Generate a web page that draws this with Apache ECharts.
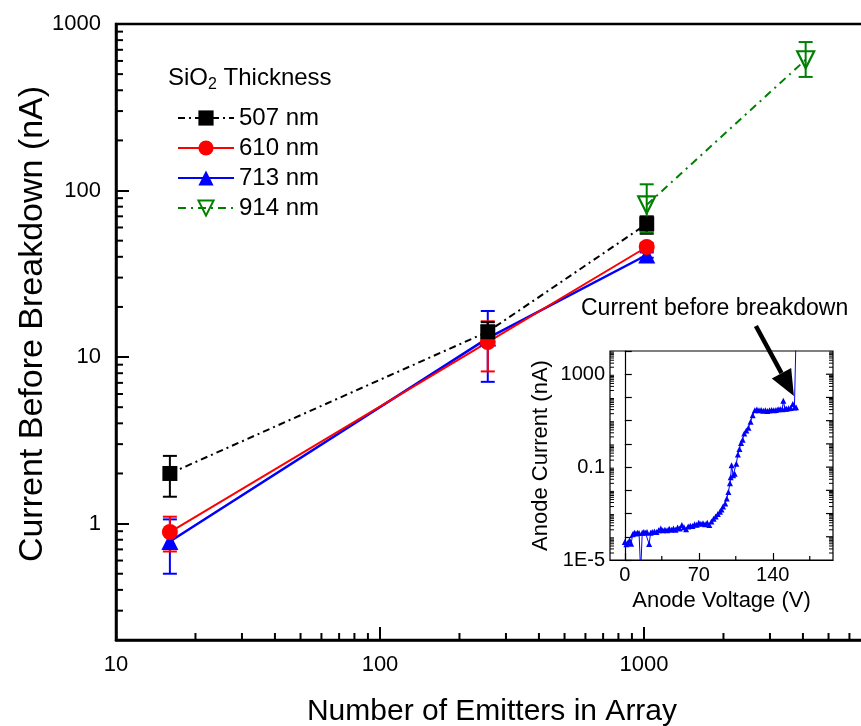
<!DOCTYPE html>
<html>
<head>
<meta charset="utf-8">
<script src="https://cdn.jsdelivr.net/npm/echarts@6/dist/echarts.min.js"></script>
<style>
  html, body { margin: 0; padding: 0; background: #fff; }
  #chart { width: 861px; height: 726px; }
</style>
</head>
<body>
<div id="chart"></div>
<script>
// ---- Main plot: current before breakdown vs. array size ----
const emitters = [16, 256, 1024];
const emitters914 = [1024, 4096];

const cur507 = [2.0, 14.2, 63];
const lo507 = [1.45, 12.2, 55];
const hi507 = [2.55, 16.2, 70];

const cur610 = [0.89, 12.3, 45.8];
const lo610 = [0.68, 8.2, 43.2];
const hi610 = [1.10, 16.4, 48.4];

const cur713 = [0.78, 13.0, 41];
const lo713 = [0.50, 7.1, 39.5];
const hi713 = [1.06, 18.9, 42.5];

const cur914 = [82, 610];
const lo914 = [56, 481];
const hi914 = [109, 779];

const seriesNames = ['507 nm', '610 nm', '713 nm', '914 nm'];
const xTickLabels = ['10', '100', '1000'];
const yTickLabels = ['1', '10', '100', '1000'];

// ---- Inset: I-V sweep of one array ----
const anodeVoltage = [
  0, 1.5, 3, 4.5, 6, 7.5, 9, 10.5, 12, 13.5, 15, 16.5, 18, 19.5, 21, 23, 24.5, 26, 28, 30,
  32, 34, 36, 38, 40, 42, 44, 46, 48, 50, 52, 54, 56, 58, 60, 62, 64, 66, 68, 70,
  72, 74, 76, 78, 80, 82, 84, 86, 88, 90, 91.5, 93, 95, 96.5, 98, 99.5, 100.2, 101, 102.5, 104,
  105.5, 107, 108.5, 110, 111.5, 113, 115, 117, 119, 121, 123, 125, 127, 129, 131, 133, 135, 137, 139, 141,
  143, 145, 147, 149, 150, 151.5, 153, 155, 157, 159, 160.5, 162, 162.7
];
const anodeCurrent = [
  6.0e-5, 4.8e-5, 5.5e-5, 7.0e-5, 5.0e-5, 1.3e-4, 1.5e-4, 1.4e-4, 1.5e-4, 1.45e-4, 3e-6, 1.5e-4, 1.6e-4, 1.5e-4, 1.6e-4, 4.9e-5, 1.5e-4, 1.6e-4, 1.7e-4, 1.6e-4,
  1.9e-4, 2.3e-4, 1.9e-4, 2.0e-4, 1.9e-4, 2.2e-4, 2.0e-4, 2.3e-4, 2.0e-4, 2.5e-4, 2.3e-4, 3.2e-4, 2.6e-4, 2.1e-4, 2.8e-4, 3.0e-4, 2.9e-4, 3.5e-4, 3.3e-4, 4.0e-4,
  3.6e-4, 3.8e-4, 3.5e-4, 4.0e-4, 3.2e-4, 4.6e-4, 6.0e-4, 7.5e-4, 9.5e-4, 1.2e-3, 1.5e-3, 2.0e-3, 2.7e-3, 4.5e-3, 8.5e-3, 0.02, 0.037, 0.12, 0.045, 0.052,
  0.14, 0.35, 0.6, 1.1, 1.5, 2.8, 3.8, 5, 9, 17, 28, 30, 28, 29, 27, 28, 26, 28, 29, 28,
  29, 31, 32, 31, 72, 33, 33, 34, 35, 52, 37, 38, 1e6
];
const insetXTicks = [0, 70, 140];
const insetYTickValues = [1e-5, 0.1, 1000];
const insetYTickLabels = ['1E-5', '0.1', '1000'];
const arrowTip = [160, 115];

const FONT = '"Liberation Sans", Arial, Helvetica, sans-serif';

function fmtLog(list) {
  return function (v) {
    const s = String(+Number(v).toPrecision(6));
    return list.indexOf(s) >= 0 ? s : '';
  };
}

// minor tick marks drawn through the axis scales
function tickSeries(xIdx, yIdx, points, dx, dy, width) {
  return {
    type: 'custom', xAxisIndex: xIdx, yAxisIndex: yIdx, silent: true, z: 6,
    data: points,
    renderItem: function (params, api) {
      const p = api.coord([api.value(0), api.value(1)]);
      return {
        type: 'line',
        shape: { x1: p[0], y1: p[1], x2: p[0] + dx, y2: p[1] + dy },
        style: { stroke: '#000', lineWidth: width }
      };
    }
  };
}

function errorBars(xs, lo, hi, color, z) {
  return {
    type: 'custom', silent: true, z: z,
    xAxisIndex: 0, yAxisIndex: 0,
    data: xs.map(function (x, i) { return [x, lo[i], hi[i]]; }),
    encode: { x: 0, y: [1, 2] },
    renderItem: function (params, api) {
      const a = api.coord([api.value(0), api.value(1)]);
      const b = api.coord([api.value(0), api.value(2)]);
      const w = 7;
      const st = { stroke: color, lineWidth: 2 };
      return {
        type: 'group',
        children: [
          { type: 'line', shape: { x1: a[0], y1: a[1], x2: b[0], y2: b[1] }, style: st },
          { type: 'line', shape: { x1: a[0] - w, y1: a[1], x2: a[0] + w, y2: a[1] }, style: st },
          { type: 'line', shape: { x1: b[0] - w, y1: b[1], x2: b[0] + w, y2: b[1] }, style: st }
        ]
      };
    }
  };
}

function pairs(xs, ys) { return xs.map(function (x, i) { return [x, ys[i]]; }); }

// minor tick positions (2..9 within each decade)
const mainXMinor = [];
[10, 100, 1000].forEach(function (d) { for (let k = 2; k <= 9; k++) mainXMinor.push([k * d, 0.2]); });
const mainYMinor = [];
[0.1, 1, 10, 100].forEach(function (d) {
  for (let k = 2; k <= 9; k++) { const v = +(k * d).toPrecision(6); if (v > 0.2) mainYMinor.push([10, v]); }
});
const insetYMinorL = [], insetYMinorR = [], insetYMajorR = [];
for (let e = -5; e <= 3; e++) {
  const d = Math.pow(10, e);
  for (let k = 2; k <= 9; k++) {
    insetYMinorL.push([-14, k * d]);
    insetYMinorR.push([197, k * d]);
  }
}
for (let e = -4; e <= 3; e++) insetYMajorR.push([197, Math.pow(10, e)]);
const insetXMinor = [[35, 1e-5], [105, 1e-5], [175, 1e-5]];

const chart = echarts.init(document.getElementById('chart'), null, { renderer: 'canvas' });

const option = {
  backgroundColor: '#fff',
  animation: false,
  textStyle: { fontFamily: FONT, color: '#000' },
  title: {
    text: 'SiO{s|2} Thickness',
    left: 163, top: 58,
    textStyle: {
      fontFamily: FONT, fontSize: 24, fontWeight: 'normal', color: '#000', lineHeight: 30,
      rich: { s: { fontFamily: FONT, fontSize: 16, verticalAlign: 'bottom', lineHeight: 16, color: '#000' } }
    }
  },
  legend: {
    data: seriesNames,
    orient: 'vertical',
    left: 172, top: 101,
    itemWidth: 56, itemHeight: 19, itemGap: 6,
    textStyle: { fontFamily: FONT, fontSize: 24, color: '#000' },
    selectedMode: false
  },
  grid: [
    { left: 116, top: 24, width: 792, height: 616, outerBoundsMode: 'none', show: true, borderColor: '#000', borderWidth: 2.5, containLabel: false },
    { left: 610, top: 351, width: 223, height: 209, outerBoundsMode: 'none', show: true, borderColor: '#000', borderWidth: 1.2, containLabel: false }
  ],
  xAxis: [
    {
      type: 'log', gridIndex: 0, min: 10, max: 10000, logBase: 10,
      name: 'Number of Emitters in Array', nameLocation: 'middle', nameGap: 57, nameMoveOverlap: false,
      nameTextStyle: { fontFamily: FONT, fontSize: 30, color: '#000', padding: [0, 40, 0, 0] },
      axisLine: { lineStyle: { color: '#000', width: 2.5 } },
      axisTick: { inside: true, length: 13, lineStyle: { color: '#000', width: 2 } },
      axisLabel: { fontFamily: FONT, fontSize: 22, color: '#000', margin: 14, formatter: fmtLog(xTickLabels) },
      splitLine: { show: false }
    },
    {
      type: 'value', gridIndex: 1, min: -14, max: 197,
      name: 'Anode Voltage (V)', nameLocation: 'middle', nameGap: 30,
      nameTextStyle: { fontFamily: FONT, fontSize: 22, color: '#000' },
      axisLine: { lineStyle: { color: '#000', width: 1.2 } },
      axisTick: { inside: true, length: 7, customValues: insetXTicks, lineStyle: { color: '#000', width: 1.2 } },
      axisLabel: { fontFamily: FONT, fontSize: 20, color: '#000', margin: 5, customValues: insetXTicks },
      splitLine: { show: false }
    }
  ],
  yAxis: [
    {
      type: 'log', gridIndex: 0, min: 0.2, max: 1000, logBase: 10,
      name: 'Current Before Breakdown (nA)', nameLocation: 'middle', nameGap: 66, nameMoveOverlap: false,
      nameTextStyle: { fontFamily: FONT, fontSize: 34, color: '#000', padding: [0, 0, 0, 16] },
      axisLine: { lineStyle: { color: '#000', width: 2.5 } },
      axisTick: { inside: true, length: 13, lineStyle: { color: '#000', width: 2 } },
      axisLabel: { fontFamily: FONT, fontSize: 22, color: '#000', margin: 15, formatter: fmtLog(yTickLabels) },
      splitLine: { show: false }
    },
    {
      type: 'log', gridIndex: 1, min: 1e-5, max: 1e4, logBase: 10,
      name: 'Anode Current (nA)', nameLocation: 'middle', nameGap: 58,
      nameTextStyle: { fontFamily: FONT, fontSize: 22, color: '#000' },
      axisLine: { lineStyle: { color: '#000', width: 1.2 } },
      axisTick: { inside: true, length: 7, lineStyle: { color: '#000', width: 1.2 } },
      axisLabel: {
        fontFamily: FONT, fontSize: 20, color: '#000', margin: 5,
        formatter: function (v) {
          for (let i = 0; i < insetYTickValues.length; i++) {
            if (Math.abs(Math.log10(v) - Math.log10(insetYTickValues[i])) < 1e-6) return insetYTickLabels[i];
          }
          return '';
        }
      },
      splitLine: { show: false }
    }
  ],
  series: [
    {
      name: '713 nm', type: 'line', xAxisIndex: 0, yAxisIndex: 0, z: 2,
      data: pairs(emitters, cur713),
      symbol: 'triangle', symbolSize: 17,
      lineStyle: { color: '#0000ff', width: 2.5 },
      itemStyle: { color: '#0000ff' }
    },
    errorBars(emitters, lo713, hi713, '#0000ff', 2),
    {
      name: '610 nm', type: 'line', xAxisIndex: 0, yAxisIndex: 0, z: 2,
      data: pairs(emitters, cur610),
      symbol: 'circle', symbolSize: 16,
      lineStyle: { color: '#ff0000', width: 2 },
      itemStyle: { color: '#ff0000' }
    },
    errorBars(emitters, lo610, hi610, '#ff0000', 2),
    {
      name: '507 nm', type: 'line', xAxisIndex: 0, yAxisIndex: 0, z: 2,
      data: pairs(emitters, cur507),
      symbol: 'rect', symbolSize: 15,
      lineStyle: { color: '#000', width: 2, type: [7, 4, 2, 4] },
      itemStyle: { color: '#000' }
    },
    errorBars(emitters, lo507, hi507, '#000', 2),
    {
      name: '914 nm', type: 'line', xAxisIndex: 0, yAxisIndex: 0, z: 2,
      data: pairs(emitters914, cur914),
      symbol: 'triangle', symbolRotate: 180, symbolSize: 17,
      lineStyle: { color: '#008000', width: 2, type: [8, 5, 2, 5] },
      itemStyle: { color: 'rgba(255,255,255,0)', borderColor: '#008000', borderWidth: 2.2 }
    },
    errorBars(emitters914, lo914, hi914, '#008000', 2),

    // inset sweep
    {
      name: 'I-V', type: 'line', xAxisIndex: 1, yAxisIndex: 1, z: 3,
      data: pairs(anodeVoltage, anodeCurrent),
      symbol: 'triangle', symbolSize: 6, showAllSymbol: true, clip: true,
      lineStyle: { color: '#0000ff', width: 1 },
      itemStyle: { color: '#0000ff' }
    },

    tickSeries(0, 0, mainXMinor, 0, -7, 2),
    tickSeries(0, 0, mainYMinor, 7, 0, 2),
    tickSeries(1, 1, insetYMinorL, 4, 0, 1),
    tickSeries(1, 1, insetYMinorR, -4, 0, 1),
    tickSeries(1, 1, insetYMajorR, -7, 0, 1.2),
    tickSeries(1, 1, insetXMinor, 0, -4, 1.2)
  ]
};

chart.setOption(option);

// annotation arrow pointing at the last point before breakdown
const tip = chart.convertToPixel({ xAxisIndex: 1, yAxisIndex: 1 }, arrowTip);
const ux = 38, uy = 70, len = Math.sqrt(ux * ux + uy * uy);
const nx = ux / len, ny = uy / len;
const headLen = 26, headHalf = 11;
const base = [tip[0] - nx * headLen, tip[1] - ny * headLen];
chart.setOption({
  graphic: [
    {
      type: 'line', z: 20,
      shape: { x1: tip[0] - ux, y1: tip[1] - uy, x2: base[0], y2: base[1] },
      style: { stroke: '#000', lineWidth: 4.5 }
    },
    {
      type: 'polygon', z: 20,
      shape: { points: [
        [tip[0], tip[1]],
        [base[0] - ny * headHalf, base[1] + nx * headHalf],
        [base[0] + ny * headHalf, base[1] - nx * headHalf]
      ] },
      style: { fill: '#000' }
    },
    {
      type: 'text', z: 20, left: 581, top: 297,
      style: { text: 'Current before breakdown', font: '23px ' + FONT, fill: '#000' }
    }
  ]
});
</script>
</body>
</html>
